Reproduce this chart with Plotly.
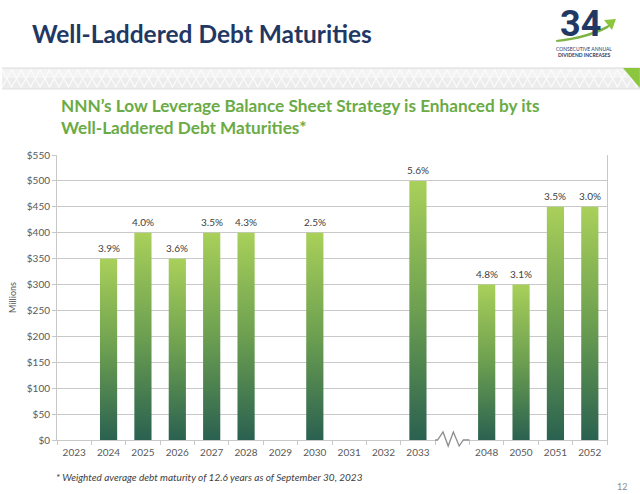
import plotly.graph_objects as go

# ---------------- data ----------------
years = ["2023", "2024", "2025", "2026", "2027", "2028", "2029", "2030",
         "2031", "2032", "2033", "2048", "2050", "2051", "2052"]
maturities = [0, 350, 400, 350, 400, 400, 0, 400, 0, 0, 500, 300, 300, 450, 450]
rates = ["", "3.9%", "4.0%", "3.6%", "3.5%", "4.3%", "", "2.5%", "", "",
         "5.6%", "4.8%", "3.1%", "3.5%", "3.0%"]
y_ticks = [0, 50, 100, 150, 200, 250, 300, 350, 400, 450, 500, 550]
break_after = "2033"   # axis break between 2033 and 2048

# ---------------- geometry ----------------
W, H = 640, 494
ML, MR, MT, MB = 55, 33, 155, 54
PW, PH = W - ML - MR, H - MT - MB
BOTTOM = H - MB


def px(x):
    return (x - ML) / PW


def py(y):
    return (BOTTOM - y) / PH


brk = years.index(break_after)
pos = [i if i <= brk else i + 1 for i in range(len(years))]
gap = brk + 1
half = 0.25

GRID = "#c8c8c8"
TXT = "#595959"
FONT = "Lato"

fig = go.Figure()

# gradient bars
for p, v in zip(pos, maturities):
    if v <= 0:
        continue
    fig.add_trace(go.Scatter(
        x=[p - half, p - half, p + half, p + half, p - half],
        y=[0, v, v, 0, 0],
        mode="lines", line=dict(width=0), fill="toself",
        fillgradient=dict(type="vertical", start=0, stop=v,
                          colorscale=[[0, "#2a6150"], [0.5, "#6c9f50"],
                                      [1, "#a9d05a"]]),
        hoverinfo="skip", showlegend=False))

shapes = []
# axis break: white cover + zigzag
shapes.append(dict(type="line", xref="x", yref="paper", x0=gap - 0.47, x1=gap + 0.47,
                   y0=0, y1=0, line=dict(color="white", width=3), layer="above"))
zz_x = [gap - 0.5, gap - 0.43, gap - 0.27, gap - 0.12, gap + 0.03, gap + 0.2, gap + 0.32, gap + 0.5]
zz_y = [0, 0, 8, -6, 8, -6, 0, 0]
path = "M " + " L ".join(f"{x},{y / PH}" for x, y in zip(zz_x, zz_y))
shapes.append(dict(type="path", xref="x", yref="paper", path=path,
                   line=dict(color="#8c8c8c", width=1.3), layer="above"))

# header band with diamond pattern
shapes.append(dict(type="rect", xref="paper", yref="paper", x0=px(0), x1=px(W),
                   y0=py(89), y1=py(68), fillcolor="#ececec", line=dict(width=0),
                   layer="below"))
shapes.append(dict(type="rect", xref="paper", yref="paper", x0=px(0), x1=px(W),
                   y0=py(78), y1=py(68), fillcolor="#f3f3f3", line=dict(width=0),
                   layer="below"))
per = 19.0
d1, d2 = [], []
k = 0
x = -per / 2
while x < W + per:
    ya, yb = (70, 87) if k % 2 == 0 else (87, 70)
    d1.append(f"{px(x)},{py(ya)}")
    d2.append(f"{px(x)},{py(yb)}")
    x += per / 2
    k += 1
for d in (d1, d2):
    shapes.append(dict(type="path", xref="paper", yref="paper",
                       path="M " + " L ".join(d),
                       line=dict(color="#fbfbfb", width=1.2), layer="below"))
shapes.append(dict(type="line", xref="paper", yref="paper", x0=px(0), x1=px(W),
                   y0=py(68), y1=py(68), line=dict(color="#dadada", width=1)))
shapes.append(dict(type="line", xref="paper", yref="paper", x0=px(0), x1=px(W),
                   y0=py(89), y1=py(89), line=dict(color="#e2e2e2", width=1)))
shapes.append(dict(type="path", xref="paper", yref="paper",
                   path=f"M {px(623)},{py(68)} L {px(640)},{py(68)} L {px(640)},{py(88)} Z",
                   fillcolor="#8cc63f", line=dict(width=0)))
# logo swoosh
shapes.append(dict(type="path", xref="paper", yref="paper",
                   path=(f"M {px(556)},{py(40)} Q {px(590)},{py(36)} {px(612)},{py(23)} "
                         f"L {px(608)},{py(28)} Q {px(588)},{py(39)} {px(556)},{py(42)} Z"),
                   fillcolor="#7cb342", line=dict(width=0)))
shapes.append(dict(type="path", xref="paper", yref="paper",
                   path=f"M {px(604)},{py(20)} L {px(616)},{py(19)} L {px(612)},{py(30)} Z",
                   fillcolor="#8cc63f", line=dict(width=0)))

annotations = [
    dict(text="<b>Well-Laddered Debt Maturities</b>", x=px(28), y=py(33),
         xref="paper", yref="paper", xanchor="left", yanchor="middle", showarrow=False,
         font=dict(family=FONT, size=24.5, color="#1f3864")),
    dict(text="<b>NNN’s Low Leverage Balance Sheet Strategy is Enhanced by its<br>"
              "Well-Laddered Debt Maturities*</b>",
         x=px(57), y=py(116), xref="paper", yref="paper", xanchor="left",
         yanchor="middle", align="left", showarrow=False,
         font=dict(family=FONT, size=17.2, color="#6aab45")),
    dict(text="<i>* Weighted average debt maturity of 12.6 years as of September 30, 2023</i>",
         x=px(52), y=py(477), xref="paper", yref="paper", xanchor="left",
         yanchor="middle", showarrow=False, font=dict(family=FONT, size=10, color="#404040")),
    dict(text="12", x=px(622), y=py(486), xref="paper", yref="paper", xanchor="center",
         yanchor="middle", showarrow=False, font=dict(family=FONT, size=9, color="#8c8c8c")),
    dict(text="<b>34</b>", x=px(580), y=py(1), xref="paper", yref="paper",
         xanchor="center", yanchor="top", showarrow=False,
         font=dict(family="Roboto", size=36, color="#1f3864")),
    dict(text="CONSECUTIVE ANNUAL", x=px(584), y=py(49), xref="paper", yref="paper",
         xanchor="center", yanchor="middle", showarrow=False,
         font=dict(family=FONT, size=5, color="#1f3864")),
    dict(text="<b>DIVIDEND INCREASES</b>", x=px(584), y=py(55), xref="paper", yref="paper",
         xanchor="center", yanchor="middle", showarrow=False,
         font=dict(family=FONT, size=5, color="#1f3864")),
]

# rate labels above each bar
for p, v, t in zip(pos, maturities, rates):
    if v > 0 and t:
        annotations.append(dict(text=t, x=p, y=v, xref="x", yref="y",
                                xanchor="center", yanchor="bottom", yshift=3,
                                showarrow=False,
                                font=dict(family=FONT, size=10, color="#404040")))

fig.update_layout(
    width=W, height=H, margin=dict(l=ML, r=MR, t=MT, b=MB),
    paper_bgcolor="white", plot_bgcolor="white",
    showlegend=False, shapes=shapes, annotations=annotations,
    font=dict(family=FONT, color=TXT),
)
fig.update_xaxes(
    type="linear", range=[-0.5, len(years) + 0.5],
    tickmode="array", tickvals=pos, ticktext=years, ticks="",
    tickfont=dict(family=FONT, size=10, color=TXT), ticklabelstandoff=3,
    showgrid=False, zeroline=False, showline=True, linecolor=GRID, linewidth=1,
    minor=dict(tickmode="array", tickvals=[i - 0.5 for i in range(len(years) + 2)],
               ticks="outside", ticklen=4, tickcolor=GRID, showgrid=False),
    fixedrange=True,
)
fig.update_yaxes(
    range=[0, 550], tickmode="array", tickvals=y_ticks,
    ticktext=[f"${v}" for v in y_ticks],
    tickfont=dict(family=FONT, size=10, color=TXT), ticks="outside", ticklen=4,
    tickcolor=GRID, showgrid=True, gridcolor=GRID, gridwidth=1, zeroline=False,
    showline=True, linecolor=GRID, linewidth=1, mirror=True,
    title=dict(text="Millions", font=dict(family=FONT, size=9, color=TXT), standoff=8),
    fixedrange=True,
)

fig.write_html("out.html")
